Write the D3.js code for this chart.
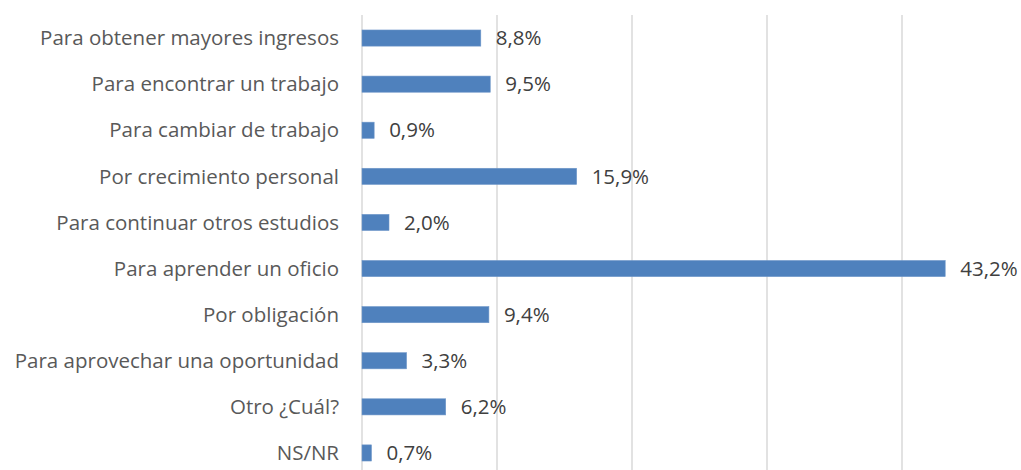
<!DOCTYPE html>
<html><head><meta charset="utf-8">
<script src="https://cdn.jsdelivr.net/npm/d3@7/dist/d3.min.js"></script>
<style>body{margin:0;background:#fff;}svg{display:block;}</style>
</head><body><svg id="c" width="1021" height="470"></svg>
<script>
const categories = ["Para obtener mayores ingresos","Para encontrar un trabajo","Para cambiar de trabajo","Por crecimiento personal","Para continuar otros estudios","Para aprender un oficio","Por obligación","Para aprovechar una oportunidad","Otro ¿Cuál?","NS/NR"];
const values = [8.8, 9.5, 0.9, 15.9, 2.0, 43.2, 9.4, 3.3, 6.2, 0.7];
const gridTicks = [0, 10, 20, 30, 40, 50];

const svg = d3.select("#c");
const x = d3.scaleLinear().domain([0, 50]).range([362, 1037]);
const y = d3.scaleBand().domain(categories).range([15, 476]).paddingInner(0.65).paddingOuter(0.325);

svg.append("g").selectAll("line").data(gridTicks).join("line")
  .attr("x1", d => x(d)).attr("x2", d => x(d))
  .attr("y1", 15).attr("y2", 476)
  .attr("stroke", "#d9d9d9").attr("stroke-width", 1.5);

svg.append("g").selectAll("rect").data(values).join("rect")
  .attr("x", x(0)).attr("y", (d, i) => y(categories[i]))
  .attr("width", d => x(d) - x(0)).attr("height", y.bandwidth())
  .attr("fill", "#4f81bd").attr("stroke", "#6f97c9").attr("stroke-width", 0.6);

const fmt = d => d.toFixed(1).replace(".", ",") + "%";
svg.append("g").selectAll("text").data(values).join("text")
  .attr("x", d => x(d) + 15).attr("y", (d, i) => y(categories[i]) + y.bandwidth() / 2)
  .attr("dy", "0.35em")
  .attr("font-family", "Open Sans, sans-serif").attr("font-size", 20.5)
  .attr("fill", "#404040").text(fmt);

svg.append("g").selectAll("text").data(categories).join("text")
  .attr("x", 339).attr("y", d => y(d) + y.bandwidth() / 2)
  .attr("dy", "0.35em").attr("text-anchor", "end")
  .attr("font-family", "Open Sans, sans-serif").attr("font-size", 20.5)
  .attr("fill", "#595959").text(d => d);
</script></body></html>
